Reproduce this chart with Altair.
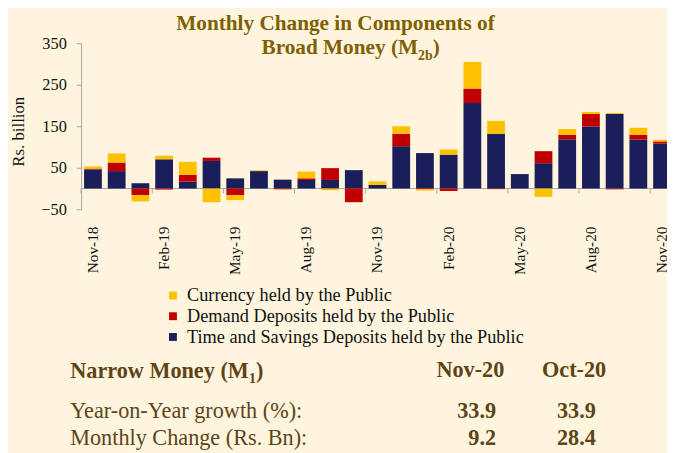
import altair as alt
import pandas as pd

months = ["Nov-18", "Dec-18", "Jan-19", "Feb-19", "Mar-19", "Apr-19", "May-19",
          "Jun-19", "Jul-19", "Aug-19", "Sep-19", "Oct-19", "Nov-19", "Dec-19",
          "Jan-20", "Feb-20", "Mar-20", "Apr-20", "May-20", "Jun-20", "Jul-20",
          "Aug-20", "Sep-20", "Oct-20", "Nov-20"]
time_savings = [46, 42, 12.7, 70.4, 16.6, 66.4, 24.5, 42, 21.4, 20.6, 20.6, 44.3, 8.7,
                102, 85.4, 81.5, 206, 132, 34.8, 61, 118.6, 149.5, 179.5, 117.8, 108]
demand = [2, 20.5, -16, -2.5, 16.6, 7.9, -16, 0, -2, 4, 28.5, -33, 0,
          30, -2, -6, 35, -1.5, 0, 29, 11, 30, -2, 12, 5.5]
currency = [5, 22, -15, 8.6, 31, -33, -12, 2, -1, 16, -4, 0, 8.7,
            18, -3, 12.6, 64, 31, 0, -20, 13.5, 5, 2.5, 16.6, 3.7]

series_names = ["Currency held by the Public",
                "Demand Deposits held by the Public",
                "Time and Savings Deposits held by the Public"]
series_colors = ["#FFC000", "#C00000", "#1A1E5A"]
tick_months = months[::3]
y_ticks = [-50, 50, 150, 250, 350]

title_line1 = "Monthly Change in Components of"
title_line2 = "Broad Money (M"
title_sub = "2b"
table_head = "Narrow Money (M"
table_sub = "1"
table_cols = ["Nov-20", "Oct-20"]
row_labels = ["Year-on-Year growth (%):", "Monthly Change (Rs. Bn):"]
yoy_growth = ["33.9", "33.9"]
monthly_change = ["9.2", "28.4"]

rows = []
for i, m in enumerate(months):
    rows.append({"month": m, "series": series_names[2], "value": time_savings[i], "ord": 0})
    rows.append({"month": m, "series": series_names[1], "value": demand[i], "ord": 1})
    rows.append({"month": m, "series": series_names[0], "value": currency[i], "ord": 2})
df = pd.DataFrame(rows)
df_ticks = pd.DataFrame({"month": tick_months})

SERIF = "Liberation Serif"
GREY = "#A6A6A6"
TITLE_C = "#7F6000"
TABLE_C = "#5E4417"
INK = "#111111"

xscale = alt.Scale(domain=months, range=[0, 600], paddingInner=0.25, paddingOuter=0.125)
yscale = alt.Scale(domain=[-50, 350], nice=False, zero=False)

zero_line = alt.Chart(alt.Data(values=[{}])).mark_rule(color=GREY, strokeWidth=1).encode(
    y=alt.datum(0, scale=yscale)
)

bars = alt.Chart(df).mark_bar(size=18).encode(
    x=alt.X("month:N", scale=xscale, sort=months,
            axis=alt.Axis(values=tick_months, title=None, labelAngle=-90, domain=False,
                          ticks=False, labelPadding=17, labelFont=SERIF, labelFontSize=15.5,
                          labelColor=INK, grid=False)),
    y=alt.Y("value:Q", scale=yscale, stack="zero",
            axis=alt.Axis(values=y_ticks, title=None, grid=False, domainColor=GREY,
                          tickColor=GREY, tickSize=5, labelPadding=10, labelFont=SERIF,
                          labelFontSize=16.5, labelColor=INK)),
    color=alt.Color("series:N", scale=alt.Scale(domain=series_names, range=series_colors),
                    legend=alt.Legend(orient="none", legendX=83.7, legendY=246, title=None,
                                      symbolType="square", symbolSize=64, symbolStrokeWidth=0,
                                      labelFont=SERIF, labelFontSize=18.5, labelColor=INK,
                                      rowPadding=2, labelOffset=5, padding=0, labelLimit=600,
                                      direction="vertical")),
    order=alt.Order("ord:Q"),
)

x_ticks = alt.Chart(df_ticks).mark_rule(color=GREY, xOffset=-3).encode(
    x=alt.X("month:N", scale=xscale, sort=months, bandPosition=0),
    y=alt.datum(0),
    y2=alt.datum(-12),
)


def txt(text, x, y, size, color, weight="normal", align="left", angle=0, baseline="alphabetic"):
    return alt.Chart(alt.Data(values=[{}])).mark_text(
        text=text, font=SERIF, fontSize=size, fontWeight=weight, color=color,
        align=align, baseline=baseline, angle=angle
    ).encode(x=alt.value(x), y=alt.value(y))


texts = [
    txt(title_line1, 257.5, -13.3, 21.5, TITLE_C, "bold", "center"),
    txt(title_line2, 341, 10.7, 21.5, TITLE_C, "bold", "right"),
    txt(title_sub, 341, 17, 14, TITLE_C, "bold", "left"),
    txt(")", 356, 10.7, 21.5, TITLE_C, "bold", "left"),
    txt("Rs. billion", -62.7, 89.5, 17, INK, "normal", "center", 270, "middle"),
    txt(table_head, -11, 339, 22.5, TABLE_C, "bold", "left"),
    txt(table_sub, 170, 344, 14, TABLE_C, "bold", "left"),
    txt(")", 177, 339, 22.5, TABLE_C, "bold", "left"),
    txt(table_cols[0], 394, 338, 22.5, TABLE_C, "bold", "center"),
    txt(table_cols[1], 499, 338, 22.5, TABLE_C, "bold", "center"),
    txt(row_labels[0], -11, 379, 22.5, TABLE_C, "normal", "left"),
    txt(row_labels[1], -11, 407, 22.5, TABLE_C, "normal", "left"),
    txt(yoy_growth[0], 420, 379, 22.5, TABLE_C, "bold", "right"),
    txt(yoy_growth[1], 521, 379, 22.5, TABLE_C, "bold", "right"),
    txt(monthly_change[0], 420, 407, 22.5, TABLE_C, "bold", "right"),
    txt(monthly_change[1], 521, 407, 22.5, TABLE_C, "bold", "right"),
]

chart = alt.layer(zero_line, bars, x_ticks, *texts).properties(
    width=593, height=168,
    padding={"left": 74, "top": 33, "right": 0, "bottom": 245},
    autosize=alt.AutoSizeParams(type="none"),
    background="#FFF5DE",
).configure_view(stroke=None)

chart.save("out.html", embed_options={"renderer": "svg", "actions": False})
